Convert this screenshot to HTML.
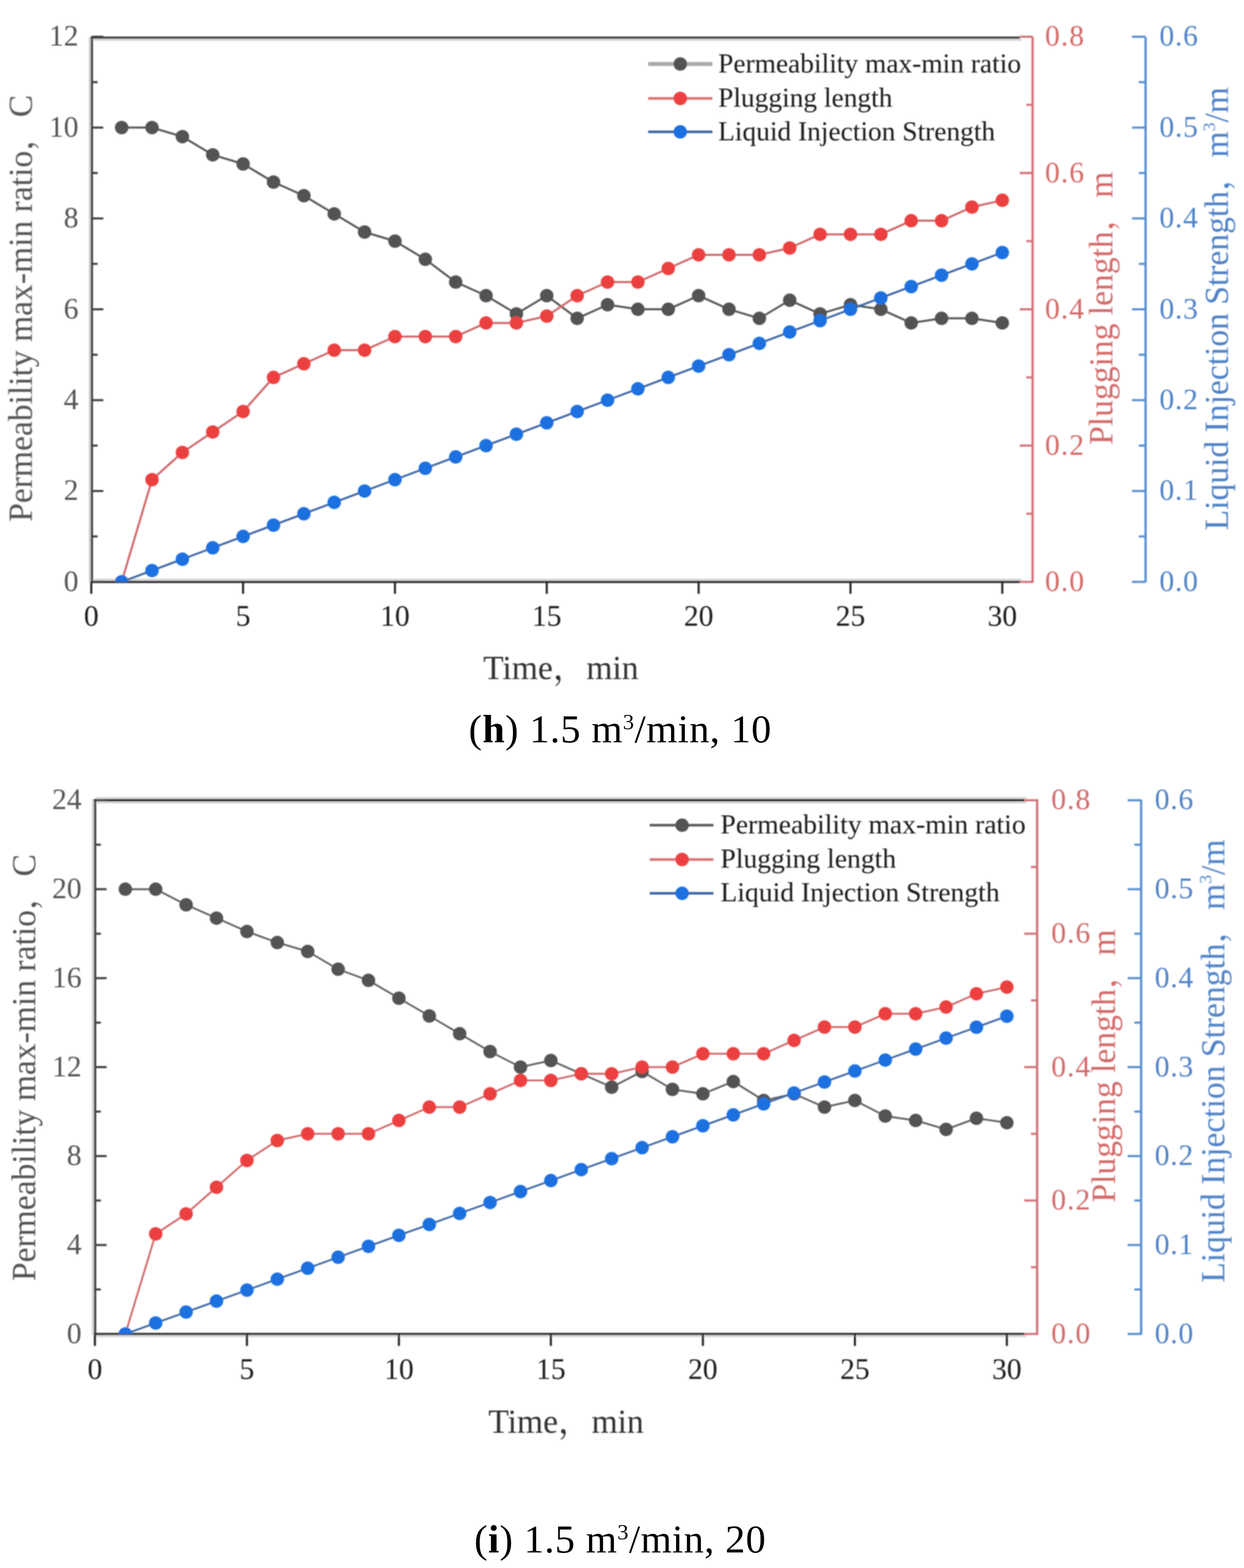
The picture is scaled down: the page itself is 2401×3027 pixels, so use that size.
<!DOCTYPE html>
<html><head><meta charset="utf-8"><title>Figure (h) and (i)</title>
<style>
html,body{margin:0;padding:0;background:#fff;}
body{width:2401px;height:3027px;overflow:hidden;}
svg{display:block;}
</style></head>
<body>
<svg width="2401" height="3027" viewBox="0 0 2401 3027">
<defs><filter id="soft" x="0" y="0" width="2401" height="3027" filterUnits="userSpaceOnUse"><feGaussianBlur stdDeviation="1.1"/></filter></defs>
<rect width="2401" height="3027" fill="#fff"/>
<g id="panel-h" filter="url(#soft)">
<rect x="171.4" y="70.7" width="4" height="1054.6" fill="#cfcfcf"/>
<line x1="177.4" y1="70.5" x2="177.4" y2="1125.5" stroke="#3f3f3f" stroke-width="4.2"/>
<rect x="179.5" y="74.8" width="1792.6" height="4" fill="#d4d4d4"/>
<rect x="179.5" y="1117.2" width="1792.6" height="4" fill="#d4d4d4"/>
<line x1="175.3" y1="72.7" x2="1968.0" y2="72.7" stroke="#404040" stroke-width="4.2"/>
<line x1="175.3" y1="1123.3" x2="1968.0" y2="1123.3" stroke="#2a2a2a" stroke-width="4.2"/>
<line x1="177.4" y1="1123.3" x2="199.4" y2="1123.3" stroke="#3f3f3f" stroke-width="4"/>
<line x1="177.4" y1="1035.6" x2="188.4" y2="1035.6" stroke="#3f3f3f" stroke-width="4"/>
<line x1="177.4" y1="947.9" x2="199.4" y2="947.9" stroke="#3f3f3f" stroke-width="4"/>
<line x1="177.4" y1="860.2" x2="188.4" y2="860.2" stroke="#3f3f3f" stroke-width="4"/>
<line x1="177.4" y1="772.5" x2="199.4" y2="772.5" stroke="#3f3f3f" stroke-width="4"/>
<line x1="177.4" y1="684.8" x2="188.4" y2="684.8" stroke="#3f3f3f" stroke-width="4"/>
<line x1="177.4" y1="597.1" x2="199.4" y2="597.1" stroke="#3f3f3f" stroke-width="4"/>
<line x1="177.4" y1="509.4" x2="188.4" y2="509.4" stroke="#3f3f3f" stroke-width="4"/>
<line x1="177.4" y1="421.7" x2="199.4" y2="421.7" stroke="#3f3f3f" stroke-width="4"/>
<line x1="177.4" y1="334.0" x2="188.4" y2="334.0" stroke="#3f3f3f" stroke-width="4"/>
<line x1="177.4" y1="246.3" x2="199.4" y2="246.3" stroke="#3f3f3f" stroke-width="4"/>
<line x1="177.4" y1="158.6" x2="188.4" y2="158.6" stroke="#3f3f3f" stroke-width="4"/>
<line x1="177.4" y1="70.9" x2="199.4" y2="70.9" stroke="#3f3f3f" stroke-width="4"/>
<line x1="176.2" y1="1123.3" x2="176.2" y2="1146.3" stroke="#222" stroke-width="4"/>
<line x1="469.2" y1="1123.3" x2="469.2" y2="1146.3" stroke="#222" stroke-width="4"/>
<line x1="762.3" y1="1123.3" x2="762.3" y2="1146.3" stroke="#222" stroke-width="4"/>
<line x1="1055.3" y1="1123.3" x2="1055.3" y2="1146.3" stroke="#222" stroke-width="4"/>
<line x1="1348.4" y1="1123.3" x2="1348.4" y2="1146.3" stroke="#222" stroke-width="4"/>
<line x1="1641.5" y1="1123.3" x2="1641.5" y2="1146.3" stroke="#222" stroke-width="4"/>
<line x1="1934.5" y1="1123.3" x2="1934.5" y2="1146.3" stroke="#222" stroke-width="4"/>
<line x1="1993.0" y1="70.7" x2="1993.0" y2="1125.3" stroke="#d0757a" stroke-width="4.5"/>
<line x1="1993.0" y1="1123.3" x2="1968.0" y2="1123.3" stroke="#d0757a" stroke-width="4.2"/>
<line x1="1993.0" y1="991.8" x2="1981.0" y2="991.8" stroke="#d0757a" stroke-width="4.2"/>
<line x1="1993.0" y1="860.2" x2="1968.0" y2="860.2" stroke="#d0757a" stroke-width="4.2"/>
<line x1="1993.0" y1="728.6" x2="1981.0" y2="728.6" stroke="#d0757a" stroke-width="4.2"/>
<line x1="1993.0" y1="597.1" x2="1968.0" y2="597.1" stroke="#d0757a" stroke-width="4.2"/>
<line x1="1993.0" y1="465.5" x2="1981.0" y2="465.5" stroke="#d0757a" stroke-width="4.2"/>
<line x1="1993.0" y1="334.0" x2="1968.0" y2="334.0" stroke="#d0757a" stroke-width="4.2"/>
<line x1="1993.0" y1="202.4" x2="1981.0" y2="202.4" stroke="#d0757a" stroke-width="4.2"/>
<line x1="1993.0" y1="70.9" x2="1968.0" y2="70.9" stroke="#d0757a" stroke-width="4.2"/>
<line x1="2211.0" y1="71.7" x2="2211.0" y2="1124.3" stroke="#5a8fd0" stroke-width="4.5"/>
<line x1="2211.0" y1="1123.3" x2="2185.0" y2="1123.3" stroke="#5a8fd0" stroke-width="4.2"/>
<line x1="2211.0" y1="1035.6" x2="2198.0" y2="1035.6" stroke="#5a8fd0" stroke-width="4.2"/>
<line x1="2211.0" y1="947.9" x2="2185.0" y2="947.9" stroke="#5a8fd0" stroke-width="4.2"/>
<line x1="2211.0" y1="860.2" x2="2198.0" y2="860.2" stroke="#5a8fd0" stroke-width="4.2"/>
<line x1="2211.0" y1="772.5" x2="2185.0" y2="772.5" stroke="#5a8fd0" stroke-width="4.2"/>
<line x1="2211.0" y1="684.8" x2="2198.0" y2="684.8" stroke="#5a8fd0" stroke-width="4.2"/>
<line x1="2211.0" y1="597.1" x2="2185.0" y2="597.1" stroke="#5a8fd0" stroke-width="4.2"/>
<line x1="2211.0" y1="509.4" x2="2198.0" y2="509.4" stroke="#5a8fd0" stroke-width="4.2"/>
<line x1="2211.0" y1="421.7" x2="2185.0" y2="421.7" stroke="#5a8fd0" stroke-width="4.2"/>
<line x1="2211.0" y1="334.0" x2="2198.0" y2="334.0" stroke="#5a8fd0" stroke-width="4.2"/>
<line x1="2211.0" y1="246.3" x2="2185.0" y2="246.3" stroke="#5a8fd0" stroke-width="4.2"/>
<line x1="2211.0" y1="158.6" x2="2198.0" y2="158.6" stroke="#5a8fd0" stroke-width="4.2"/>
<line x1="2211.0" y1="70.9" x2="2185.0" y2="70.9" stroke="#5a8fd0" stroke-width="4.2"/>
<g font-family="'Liberation Serif', 'Noto Serif CJK SC', serif" font-size="57">
<text x="151.5" y="1140.8" text-anchor="end" fill="#555555">0</text>
<text x="151.5" y="965.4" text-anchor="end" fill="#555555">2</text>
<text x="151.5" y="790.0" text-anchor="end" fill="#555555">4</text>
<text x="151.5" y="614.6" text-anchor="end" fill="#555555">6</text>
<text x="151.5" y="439.2" text-anchor="end" fill="#555555">8</text>
<text x="151.5" y="263.8" text-anchor="end" fill="#555555">10</text>
<text x="151.5" y="88.4" text-anchor="end" fill="#555555">12</text>
<text x="176.2" y="1208.0" text-anchor="middle" fill="#1a1a1a">0</text>
<text x="469.2" y="1208.0" text-anchor="middle" fill="#1a1a1a">5</text>
<text x="762.3" y="1208.0" text-anchor="middle" fill="#1a1a1a">10</text>
<text x="1055.3" y="1208.0" text-anchor="middle" fill="#1a1a1a">15</text>
<text x="1348.4" y="1208.0" text-anchor="middle" fill="#1a1a1a">20</text>
<text x="1641.5" y="1208.0" text-anchor="middle" fill="#1a1a1a">25</text>
<text x="1934.5" y="1208.0" text-anchor="middle" fill="#1a1a1a">30</text>
<text x="2017.0" y="1140.8" letter-spacing="2" fill="#d46a6a">0.0</text>
<text x="2017.0" y="877.7" letter-spacing="2" fill="#d46a6a">0.2</text>
<text x="2017.0" y="614.6" letter-spacing="2" fill="#d46a6a">0.4</text>
<text x="2017.0" y="351.5" letter-spacing="2" fill="#d46a6a">0.6</text>
<text x="2017.0" y="88.4" letter-spacing="2" fill="#d46a6a">0.8</text>
<text x="2237.7" y="1140.8" letter-spacing="1.5" fill="#4f82c8">0.0</text>
<text x="2237.7" y="965.4" letter-spacing="1.5" fill="#4f82c8">0.1</text>
<text x="2237.7" y="790.0" letter-spacing="1.5" fill="#4f82c8">0.2</text>
<text x="2237.7" y="614.6" letter-spacing="1.5" fill="#4f82c8">0.3</text>
<text x="2237.7" y="439.2" letter-spacing="1.5" fill="#4f82c8">0.4</text>
<text x="2237.7" y="263.8" letter-spacing="1.5" fill="#4f82c8">0.5</text>
<text x="2237.7" y="88.4" letter-spacing="1.5" fill="#4f82c8">0.6</text>
</g>
<g font-family="'Liberation Serif', 'Noto Serif CJK SC', serif" font-size="64.8" text-anchor="middle">
<text transform="translate(61.5,595.3) rotate(-90)" fill="#555">Permeability max-min ratio，C</text>
<text transform="translate(2147.0,595.0) rotate(-90)" fill="#d46a6a">Plugging length，m</text>
<text transform="translate(2370.0,596.0) rotate(-90)" fill="#4f82c8">Liquid Injection Strength，m<tspan font-size="34" dy="-25">3</tspan><tspan dy="25">/m</tspan></text>
<text x="1082.5" y="1311.0" fill="#333">Time，min</text>
</g>
<clipPath id="clip-h"><rect x="177.4" y="72.7" width="1815.6" height="1050.6"/></clipPath>
<g clip-path="url(#clip-h)">
<polyline points="234.8,246.3 293.4,246.3 352.0,263.8 410.6,298.9 469.2,316.5 527.9,351.5 586.5,377.8 645.1,412.9 703.7,448.0 762.3,465.5 820.9,500.6 879.5,544.5 938.1,570.8 996.7,605.9 1055.3,570.8 1114.0,614.6 1172.6,588.3 1231.2,597.1 1289.8,597.1 1348.4,570.8 1407.0,597.1 1465.6,614.6 1524.2,579.6 1582.8,605.9 1641.5,588.3 1700.1,597.1 1758.7,623.4 1817.3,614.6 1875.9,614.6 1934.5,623.4" fill="none" stroke="#5a5a5a" stroke-width="4" stroke-linejoin="round"/>
<circle cx="234.8" cy="246.3" r="13.0" fill="#525252"/><circle cx="293.4" cy="246.3" r="13.0" fill="#525252"/><circle cx="352.0" cy="263.8" r="13.0" fill="#525252"/><circle cx="410.6" cy="298.9" r="13.0" fill="#525252"/><circle cx="469.2" cy="316.5" r="13.0" fill="#525252"/><circle cx="527.9" cy="351.5" r="13.0" fill="#525252"/><circle cx="586.5" cy="377.8" r="13.0" fill="#525252"/><circle cx="645.1" cy="412.9" r="13.0" fill="#525252"/><circle cx="703.7" cy="448.0" r="13.0" fill="#525252"/><circle cx="762.3" cy="465.5" r="13.0" fill="#525252"/><circle cx="820.9" cy="500.6" r="13.0" fill="#525252"/><circle cx="879.5" cy="544.5" r="13.0" fill="#525252"/><circle cx="938.1" cy="570.8" r="13.0" fill="#525252"/><circle cx="996.7" cy="605.9" r="13.0" fill="#525252"/><circle cx="1055.3" cy="570.8" r="13.0" fill="#525252"/><circle cx="1114.0" cy="614.6" r="13.0" fill="#525252"/><circle cx="1172.6" cy="588.3" r="13.0" fill="#525252"/><circle cx="1231.2" cy="597.1" r="13.0" fill="#525252"/><circle cx="1289.8" cy="597.1" r="13.0" fill="#525252"/><circle cx="1348.4" cy="570.8" r="13.0" fill="#525252"/><circle cx="1407.0" cy="597.1" r="13.0" fill="#525252"/><circle cx="1465.6" cy="614.6" r="13.0" fill="#525252"/><circle cx="1524.2" cy="579.6" r="13.0" fill="#525252"/><circle cx="1582.8" cy="605.9" r="13.0" fill="#525252"/><circle cx="1641.5" cy="588.3" r="13.0" fill="#525252"/><circle cx="1700.1" cy="597.1" r="13.0" fill="#525252"/><circle cx="1758.7" cy="623.4" r="13.0" fill="#525252"/><circle cx="1817.3" cy="614.6" r="13.0" fill="#525252"/><circle cx="1875.9" cy="614.6" r="13.0" fill="#525252"/><circle cx="1934.5" cy="623.4" r="13.0" fill="#525252"/>
<polyline points="234.8,1123.3 293.4,926.0 352.0,873.4 410.6,833.9 469.2,794.4 527.9,728.6 586.5,702.3 645.1,676.0 703.7,676.0 762.3,649.7 820.9,649.7 879.5,649.7 938.1,623.4 996.7,623.4 1055.3,610.3 1114.0,570.8 1172.6,544.5 1231.2,544.5 1289.8,518.2 1348.4,491.9 1407.0,491.9 1465.6,491.9 1524.2,478.7 1582.8,452.4 1641.5,452.4 1700.1,452.4 1758.7,426.1 1817.3,426.1 1875.9,399.8 1934.5,386.6" fill="none" stroke="#d0676a" stroke-width="4" stroke-linejoin="round"/>
<circle cx="234.8" cy="1123.3" r="13.0" fill="#ec4040"/><circle cx="293.4" cy="926.0" r="13.0" fill="#ec4040"/><circle cx="352.0" cy="873.4" r="13.0" fill="#ec4040"/><circle cx="410.6" cy="833.9" r="13.0" fill="#ec4040"/><circle cx="469.2" cy="794.4" r="13.0" fill="#ec4040"/><circle cx="527.9" cy="728.6" r="13.0" fill="#ec4040"/><circle cx="586.5" cy="702.3" r="13.0" fill="#ec4040"/><circle cx="645.1" cy="676.0" r="13.0" fill="#ec4040"/><circle cx="703.7" cy="676.0" r="13.0" fill="#ec4040"/><circle cx="762.3" cy="649.7" r="13.0" fill="#ec4040"/><circle cx="820.9" cy="649.7" r="13.0" fill="#ec4040"/><circle cx="879.5" cy="649.7" r="13.0" fill="#ec4040"/><circle cx="938.1" cy="623.4" r="13.0" fill="#ec4040"/><circle cx="996.7" cy="623.4" r="13.0" fill="#ec4040"/><circle cx="1055.3" cy="610.3" r="13.0" fill="#ec4040"/><circle cx="1114.0" cy="570.8" r="13.0" fill="#ec4040"/><circle cx="1172.6" cy="544.5" r="13.0" fill="#ec4040"/><circle cx="1231.2" cy="544.5" r="13.0" fill="#ec4040"/><circle cx="1289.8" cy="518.2" r="13.0" fill="#ec4040"/><circle cx="1348.4" cy="491.9" r="13.0" fill="#ec4040"/><circle cx="1407.0" cy="491.9" r="13.0" fill="#ec4040"/><circle cx="1465.6" cy="491.9" r="13.0" fill="#ec4040"/><circle cx="1524.2" cy="478.7" r="13.0" fill="#ec4040"/><circle cx="1582.8" cy="452.4" r="13.0" fill="#ec4040"/><circle cx="1641.5" cy="452.4" r="13.0" fill="#ec4040"/><circle cx="1700.1" cy="452.4" r="13.0" fill="#ec4040"/><circle cx="1758.7" cy="426.1" r="13.0" fill="#ec4040"/><circle cx="1817.3" cy="426.1" r="13.0" fill="#ec4040"/><circle cx="1875.9" cy="399.8" r="13.0" fill="#ec4040"/><circle cx="1934.5" cy="386.6" r="13.0" fill="#ec4040"/>
<polyline points="234.8,1123.3 293.4,1101.4 352.0,1079.5 410.6,1057.5 469.2,1035.6 527.9,1013.7 586.5,991.8 645.1,969.8 703.7,947.9 762.3,926.0 820.9,904.0 879.5,882.1 938.1,860.2 996.7,838.3 1055.3,816.3 1114.0,794.4 1172.6,772.5 1231.2,750.6 1289.8,728.6 1348.4,706.7 1407.0,684.8 1465.6,662.9 1524.2,640.9 1582.8,619.0 1641.5,597.1 1700.1,575.2 1758.7,553.2 1817.3,531.3 1875.9,509.4 1934.5,487.5" fill="none" stroke="#4068a6" stroke-width="4" stroke-linejoin="round"/>
<circle cx="234.8" cy="1123.3" r="13.0" fill="#1c70e0"/><circle cx="293.4" cy="1101.4" r="13.0" fill="#1c70e0"/><circle cx="352.0" cy="1079.5" r="13.0" fill="#1c70e0"/><circle cx="410.6" cy="1057.5" r="13.0" fill="#1c70e0"/><circle cx="469.2" cy="1035.6" r="13.0" fill="#1c70e0"/><circle cx="527.9" cy="1013.7" r="13.0" fill="#1c70e0"/><circle cx="586.5" cy="991.8" r="13.0" fill="#1c70e0"/><circle cx="645.1" cy="969.8" r="13.0" fill="#1c70e0"/><circle cx="703.7" cy="947.9" r="13.0" fill="#1c70e0"/><circle cx="762.3" cy="926.0" r="13.0" fill="#1c70e0"/><circle cx="820.9" cy="904.0" r="13.0" fill="#1c70e0"/><circle cx="879.5" cy="882.1" r="13.0" fill="#1c70e0"/><circle cx="938.1" cy="860.2" r="13.0" fill="#1c70e0"/><circle cx="996.7" cy="838.3" r="13.0" fill="#1c70e0"/><circle cx="1055.3" cy="816.3" r="13.0" fill="#1c70e0"/><circle cx="1114.0" cy="794.4" r="13.0" fill="#1c70e0"/><circle cx="1172.6" cy="772.5" r="13.0" fill="#1c70e0"/><circle cx="1231.2" cy="750.6" r="13.0" fill="#1c70e0"/><circle cx="1289.8" cy="728.6" r="13.0" fill="#1c70e0"/><circle cx="1348.4" cy="706.7" r="13.0" fill="#1c70e0"/><circle cx="1407.0" cy="684.8" r="13.0" fill="#1c70e0"/><circle cx="1465.6" cy="662.9" r="13.0" fill="#1c70e0"/><circle cx="1524.2" cy="640.9" r="13.0" fill="#1c70e0"/><circle cx="1582.8" cy="619.0" r="13.0" fill="#1c70e0"/><circle cx="1641.5" cy="597.1" r="13.0" fill="#1c70e0"/><circle cx="1700.1" cy="575.2" r="13.0" fill="#1c70e0"/><circle cx="1758.7" cy="553.2" r="13.0" fill="#1c70e0"/><circle cx="1817.3" cy="531.3" r="13.0" fill="#1c70e0"/><circle cx="1875.9" cy="509.4" r="13.0" fill="#1c70e0"/><circle cx="1934.5" cy="487.5" r="13.0" fill="#1c70e0"/>
</g>
<line x1="1251" y1="123.5" x2="1375" y2="123.5" stroke="#a9a9a9" stroke-width="7.5"/>
<circle cx="1313.0" cy="123.5" r="13.0" fill="#525252"/>
<text x="1386.0" y="139.5" font-family="'Liberation Serif', 'Noto Serif CJK SC', serif" font-size="52.9" fill="#1a1a1a">Permeability max-min ratio</text>
<line x1="1251" y1="190.0" x2="1375" y2="190.0" stroke="#dc6f72" stroke-width="5"/>
<circle cx="1313.0" cy="190.0" r="13.0" fill="#ec4040"/>
<text x="1386.0" y="206.0" font-family="'Liberation Serif', 'Noto Serif CJK SC', serif" font-size="52.9" fill="#1a1a1a">Plugging length</text>
<line x1="1251" y1="254.5" x2="1375" y2="254.5" stroke="#4068a6" stroke-width="5"/>
<circle cx="1313.0" cy="254.5" r="13.0" fill="#1c70e0"/>
<text x="1386.0" y="270.5" font-family="'Liberation Serif', 'Noto Serif CJK SC', serif" font-size="52.9" fill="#1a1a1a">Liquid Injection Strength</text>
</g>
<text x="1197.0" y="1433.0" text-anchor="middle" font-family="'Liberation Serif', 'Noto Serif CJK SC', serif" font-size="77" letter-spacing="1" fill="#000">(<tspan font-weight="bold">h</tspan>) 1.5 m<tspan font-size="43" dy="-25">3</tspan><tspan dy="25">/min, 10</tspan></text>
<g id="panel-i" filter="url(#soft)">
<rect x="177.7" y="1542.8" width="4" height="1034.4" fill="#cfcfcf"/>
<line x1="183.7" y1="1542.6" x2="183.7" y2="2577.4" stroke="#3f3f3f" stroke-width="4.2"/>
<rect x="185.8" y="1538.7" width="1795.1" height="4" fill="#d4d4d4"/>
<rect x="185.8" y="1546.9" width="1795.1" height="4" fill="#d4d4d4"/>
<rect x="185.8" y="2577.3" width="1795.1" height="4" fill="#d4d4d4"/>
<line x1="181.6" y1="1544.8" x2="1976.8" y2="1544.8" stroke="#080808" stroke-width="4.2"/>
<line x1="181.6" y1="2575.2" x2="1976.8" y2="2575.2" stroke="#383838" stroke-width="4.2"/>
<line x1="183.7" y1="2575.2" x2="205.7" y2="2575.2" stroke="#3f3f3f" stroke-width="4"/>
<line x1="183.7" y1="2489.3" x2="194.7" y2="2489.3" stroke="#3f3f3f" stroke-width="4"/>
<line x1="183.7" y1="2403.5" x2="205.7" y2="2403.5" stroke="#3f3f3f" stroke-width="4"/>
<line x1="183.7" y1="2317.6" x2="194.7" y2="2317.6" stroke="#3f3f3f" stroke-width="4"/>
<line x1="183.7" y1="2231.8" x2="205.7" y2="2231.8" stroke="#3f3f3f" stroke-width="4"/>
<line x1="183.7" y1="2145.9" x2="194.7" y2="2145.9" stroke="#3f3f3f" stroke-width="4"/>
<line x1="183.7" y1="2060.0" x2="205.7" y2="2060.0" stroke="#3f3f3f" stroke-width="4"/>
<line x1="183.7" y1="1974.2" x2="194.7" y2="1974.2" stroke="#3f3f3f" stroke-width="4"/>
<line x1="183.7" y1="1888.3" x2="205.7" y2="1888.3" stroke="#3f3f3f" stroke-width="4"/>
<line x1="183.7" y1="1802.5" x2="194.7" y2="1802.5" stroke="#3f3f3f" stroke-width="4"/>
<line x1="183.7" y1="1716.6" x2="205.7" y2="1716.6" stroke="#3f3f3f" stroke-width="4"/>
<line x1="183.7" y1="1630.7" x2="194.7" y2="1630.7" stroke="#3f3f3f" stroke-width="4"/>
<line x1="183.7" y1="1544.9" x2="205.7" y2="1544.9" stroke="#3f3f3f" stroke-width="4"/>
<line x1="183.2" y1="2575.2" x2="183.2" y2="2598.2" stroke="#222" stroke-width="4"/>
<line x1="476.6" y1="2575.2" x2="476.6" y2="2598.2" stroke="#222" stroke-width="4"/>
<line x1="769.9" y1="2575.2" x2="769.9" y2="2598.2" stroke="#222" stroke-width="4"/>
<line x1="1063.2" y1="2575.2" x2="1063.2" y2="2598.2" stroke="#222" stroke-width="4"/>
<line x1="1356.6" y1="2575.2" x2="1356.6" y2="2598.2" stroke="#222" stroke-width="4"/>
<line x1="1650.0" y1="2575.2" x2="1650.0" y2="2598.2" stroke="#222" stroke-width="4"/>
<line x1="1943.3" y1="2575.2" x2="1943.3" y2="2598.2" stroke="#222" stroke-width="4"/>
<line x1="2001.8" y1="1542.8" x2="2001.8" y2="2577.2" stroke="#d0757a" stroke-width="4.5"/>
<line x1="2001.8" y1="2575.2" x2="1976.8" y2="2575.2" stroke="#d0757a" stroke-width="4.2"/>
<line x1="2001.8" y1="2446.4" x2="1989.8" y2="2446.4" stroke="#d0757a" stroke-width="4.2"/>
<line x1="2001.8" y1="2317.6" x2="1976.8" y2="2317.6" stroke="#d0757a" stroke-width="4.2"/>
<line x1="2001.8" y1="2188.8" x2="1989.8" y2="2188.8" stroke="#d0757a" stroke-width="4.2"/>
<line x1="2001.8" y1="2060.0" x2="1976.8" y2="2060.0" stroke="#d0757a" stroke-width="4.2"/>
<line x1="2001.8" y1="1931.2" x2="1989.8" y2="1931.2" stroke="#d0757a" stroke-width="4.2"/>
<line x1="2001.8" y1="1802.5" x2="1976.8" y2="1802.5" stroke="#d0757a" stroke-width="4.2"/>
<line x1="2001.8" y1="1673.7" x2="1989.8" y2="1673.7" stroke="#d0757a" stroke-width="4.2"/>
<line x1="2001.8" y1="1544.9" x2="1976.8" y2="1544.9" stroke="#d0757a" stroke-width="4.2"/>
<line x1="2202.5" y1="1543.8" x2="2202.5" y2="2576.2" stroke="#5a8fd0" stroke-width="4.5"/>
<line x1="2202.5" y1="2575.2" x2="2176.5" y2="2575.2" stroke="#5a8fd0" stroke-width="4.2"/>
<line x1="2202.5" y1="2489.3" x2="2189.5" y2="2489.3" stroke="#5a8fd0" stroke-width="4.2"/>
<line x1="2202.5" y1="2403.5" x2="2176.5" y2="2403.5" stroke="#5a8fd0" stroke-width="4.2"/>
<line x1="2202.5" y1="2317.6" x2="2189.5" y2="2317.6" stroke="#5a8fd0" stroke-width="4.2"/>
<line x1="2202.5" y1="2231.8" x2="2176.5" y2="2231.8" stroke="#5a8fd0" stroke-width="4.2"/>
<line x1="2202.5" y1="2145.9" x2="2189.5" y2="2145.9" stroke="#5a8fd0" stroke-width="4.2"/>
<line x1="2202.5" y1="2060.0" x2="2176.5" y2="2060.0" stroke="#5a8fd0" stroke-width="4.2"/>
<line x1="2202.5" y1="1974.2" x2="2189.5" y2="1974.2" stroke="#5a8fd0" stroke-width="4.2"/>
<line x1="2202.5" y1="1888.3" x2="2176.5" y2="1888.3" stroke="#5a8fd0" stroke-width="4.2"/>
<line x1="2202.5" y1="1802.5" x2="2189.5" y2="1802.5" stroke="#5a8fd0" stroke-width="4.2"/>
<line x1="2202.5" y1="1716.6" x2="2176.5" y2="1716.6" stroke="#5a8fd0" stroke-width="4.2"/>
<line x1="2202.5" y1="1630.7" x2="2189.5" y2="1630.7" stroke="#5a8fd0" stroke-width="4.2"/>
<line x1="2202.5" y1="1544.9" x2="2176.5" y2="1544.9" stroke="#5a8fd0" stroke-width="4.2"/>
<g font-family="'Liberation Serif', 'Noto Serif CJK SC', serif" font-size="57">
<text x="157.5" y="2592.7" text-anchor="end" fill="#555555">0</text>
<text x="157.5" y="2421.0" text-anchor="end" fill="#555555">4</text>
<text x="157.5" y="2249.3" text-anchor="end" fill="#555555">8</text>
<text x="157.5" y="2077.5" text-anchor="end" fill="#555555">12</text>
<text x="157.5" y="1905.8" text-anchor="end" fill="#555555">16</text>
<text x="157.5" y="1734.1" text-anchor="end" fill="#555555">20</text>
<text x="157.5" y="1562.4" text-anchor="end" fill="#555555">24</text>
<text x="183.2" y="2662.0" text-anchor="middle" fill="#1a1a1a">0</text>
<text x="476.6" y="2662.0" text-anchor="middle" fill="#1a1a1a">5</text>
<text x="769.9" y="2662.0" text-anchor="middle" fill="#1a1a1a">10</text>
<text x="1063.2" y="2662.0" text-anchor="middle" fill="#1a1a1a">15</text>
<text x="1356.6" y="2662.0" text-anchor="middle" fill="#1a1a1a">20</text>
<text x="1650.0" y="2662.0" text-anchor="middle" fill="#1a1a1a">25</text>
<text x="1943.3" y="2662.0" text-anchor="middle" fill="#1a1a1a">30</text>
<text x="2029.0" y="2592.7" letter-spacing="2" fill="#d46a6a">0.0</text>
<text x="2029.0" y="2335.1" letter-spacing="2" fill="#d46a6a">0.2</text>
<text x="2029.0" y="2077.5" letter-spacing="2" fill="#d46a6a">0.4</text>
<text x="2029.0" y="1820.0" letter-spacing="2" fill="#d46a6a">0.6</text>
<text x="2029.0" y="1562.4" letter-spacing="2" fill="#d46a6a">0.8</text>
<text x="2228.7" y="2592.7" letter-spacing="1.5" fill="#4f82c8">0.0</text>
<text x="2228.7" y="2421.0" letter-spacing="1.5" fill="#4f82c8">0.1</text>
<text x="2228.7" y="2249.3" letter-spacing="1.5" fill="#4f82c8">0.2</text>
<text x="2228.7" y="2077.5" letter-spacing="1.5" fill="#4f82c8">0.3</text>
<text x="2228.7" y="1905.8" letter-spacing="1.5" fill="#4f82c8">0.4</text>
<text x="2228.7" y="1734.1" letter-spacing="1.5" fill="#4f82c8">0.5</text>
<text x="2228.7" y="1562.4" letter-spacing="1.5" fill="#4f82c8">0.6</text>
</g>
<g font-family="'Liberation Serif', 'Noto Serif CJK SC', serif" font-size="64.8" text-anchor="middle">
<text transform="translate(68.0,2061.0) rotate(-90)" fill="#555">Permeability max-min ratio，C</text>
<text transform="translate(2152.0,2057.8) rotate(-90)" fill="#d46a6a">Plugging length，m</text>
<text transform="translate(2363.0,2048.5) rotate(-90)" fill="#4f82c8">Liquid Injection Strength，m<tspan font-size="34" dy="-25">3</tspan><tspan dy="25">/m</tspan></text>
<text x="1092.5" y="2766.0" fill="#333">Time，min</text>
</g>
<clipPath id="clip-i"><rect x="183.7" y="1544.8" width="1818.1" height="1030.4"/></clipPath>
<g clip-path="url(#clip-i)">
<polyline points="241.9,1716.6 300.5,1716.6 359.2,1746.7 417.9,1772.4 476.6,1798.2 535.2,1819.6 593.9,1836.8 652.6,1871.1 711.2,1892.6 769.9,1927.0 828.6,1961.3 887.2,1995.6 945.9,2030.0 1004.6,2060.0 1063.2,2047.2 1121.9,2072.9 1180.6,2098.7 1239.3,2068.6 1297.9,2103.0 1356.6,2111.6 1415.3,2087.9 1473.9,2124.4 1532.6,2111.6 1591.3,2137.3 1650.0,2124.4 1708.6,2154.5 1767.3,2163.1 1826.0,2180.2 1884.6,2158.8 1943.3,2167.4" fill="none" stroke="#646464" stroke-width="3.6" stroke-linejoin="round"/>
<circle cx="241.9" cy="1716.6" r="13.0" fill="#525252"/><circle cx="300.5" cy="1716.6" r="13.0" fill="#525252"/><circle cx="359.2" cy="1746.7" r="13.0" fill="#525252"/><circle cx="417.9" cy="1772.4" r="13.0" fill="#525252"/><circle cx="476.6" cy="1798.2" r="13.0" fill="#525252"/><circle cx="535.2" cy="1819.6" r="13.0" fill="#525252"/><circle cx="593.9" cy="1836.8" r="13.0" fill="#525252"/><circle cx="652.6" cy="1871.1" r="13.0" fill="#525252"/><circle cx="711.2" cy="1892.6" r="13.0" fill="#525252"/><circle cx="769.9" cy="1927.0" r="13.0" fill="#525252"/><circle cx="828.6" cy="1961.3" r="13.0" fill="#525252"/><circle cx="887.2" cy="1995.6" r="13.0" fill="#525252"/><circle cx="945.9" cy="2030.0" r="13.0" fill="#525252"/><circle cx="1004.6" cy="2060.0" r="13.0" fill="#525252"/><circle cx="1063.2" cy="2047.2" r="13.0" fill="#525252"/><circle cx="1121.9" cy="2072.9" r="13.0" fill="#525252"/><circle cx="1180.6" cy="2098.7" r="13.0" fill="#525252"/><circle cx="1239.3" cy="2068.6" r="13.0" fill="#525252"/><circle cx="1297.9" cy="2103.0" r="13.0" fill="#525252"/><circle cx="1356.6" cy="2111.6" r="13.0" fill="#525252"/><circle cx="1415.3" cy="2087.9" r="13.0" fill="#525252"/><circle cx="1473.9" cy="2124.4" r="13.0" fill="#525252"/><circle cx="1532.6" cy="2111.6" r="13.0" fill="#525252"/><circle cx="1591.3" cy="2137.3" r="13.0" fill="#525252"/><circle cx="1650.0" cy="2124.4" r="13.0" fill="#525252"/><circle cx="1708.6" cy="2154.5" r="13.0" fill="#525252"/><circle cx="1767.3" cy="2163.1" r="13.0" fill="#525252"/><circle cx="1826.0" cy="2180.2" r="13.0" fill="#525252"/><circle cx="1884.6" cy="2158.8" r="13.0" fill="#525252"/><circle cx="1943.3" cy="2167.4" r="13.0" fill="#525252"/>
<polyline points="241.9,2575.2 300.5,2382.0 359.2,2343.4 417.9,2291.9 476.6,2240.3 535.2,2201.7 593.9,2188.8 652.6,2188.8 711.2,2188.8 769.9,2163.1 828.6,2137.3 887.2,2137.3 945.9,2111.6 1004.6,2085.8 1063.2,2085.8 1121.9,2072.9 1180.6,2072.9 1239.3,2060.0 1297.9,2060.0 1356.6,2034.3 1415.3,2034.3 1473.9,2034.3 1532.6,2008.5 1591.3,1982.8 1650.0,1982.8 1708.6,1957.0 1767.3,1957.0 1826.0,1944.1 1884.6,1918.4 1943.3,1905.5" fill="none" stroke="#d0676a" stroke-width="3.6" stroke-linejoin="round"/>
<circle cx="241.9" cy="2575.2" r="13.0" fill="#ec4040"/><circle cx="300.5" cy="2382.0" r="13.0" fill="#ec4040"/><circle cx="359.2" cy="2343.4" r="13.0" fill="#ec4040"/><circle cx="417.9" cy="2291.9" r="13.0" fill="#ec4040"/><circle cx="476.6" cy="2240.3" r="13.0" fill="#ec4040"/><circle cx="535.2" cy="2201.7" r="13.0" fill="#ec4040"/><circle cx="593.9" cy="2188.8" r="13.0" fill="#ec4040"/><circle cx="652.6" cy="2188.8" r="13.0" fill="#ec4040"/><circle cx="711.2" cy="2188.8" r="13.0" fill="#ec4040"/><circle cx="769.9" cy="2163.1" r="13.0" fill="#ec4040"/><circle cx="828.6" cy="2137.3" r="13.0" fill="#ec4040"/><circle cx="887.2" cy="2137.3" r="13.0" fill="#ec4040"/><circle cx="945.9" cy="2111.6" r="13.0" fill="#ec4040"/><circle cx="1004.6" cy="2085.8" r="13.0" fill="#ec4040"/><circle cx="1063.2" cy="2085.8" r="13.0" fill="#ec4040"/><circle cx="1121.9" cy="2072.9" r="13.0" fill="#ec4040"/><circle cx="1180.6" cy="2072.9" r="13.0" fill="#ec4040"/><circle cx="1239.3" cy="2060.0" r="13.0" fill="#ec4040"/><circle cx="1297.9" cy="2060.0" r="13.0" fill="#ec4040"/><circle cx="1356.6" cy="2034.3" r="13.0" fill="#ec4040"/><circle cx="1415.3" cy="2034.3" r="13.0" fill="#ec4040"/><circle cx="1473.9" cy="2034.3" r="13.0" fill="#ec4040"/><circle cx="1532.6" cy="2008.5" r="13.0" fill="#ec4040"/><circle cx="1591.3" cy="1982.8" r="13.0" fill="#ec4040"/><circle cx="1650.0" cy="1982.8" r="13.0" fill="#ec4040"/><circle cx="1708.6" cy="1957.0" r="13.0" fill="#ec4040"/><circle cx="1767.3" cy="1957.0" r="13.0" fill="#ec4040"/><circle cx="1826.0" cy="1944.1" r="13.0" fill="#ec4040"/><circle cx="1884.6" cy="1918.4" r="13.0" fill="#ec4040"/><circle cx="1943.3" cy="1905.5" r="13.0" fill="#ec4040"/>
<polyline points="241.9,2575.2 300.5,2554.0 359.2,2532.9 417.9,2511.8 476.6,2490.6 535.2,2469.4 593.9,2448.3 652.6,2427.1 711.2,2406.0 769.9,2384.8 828.6,2363.7 887.2,2342.5 945.9,2321.4 1004.6,2300.2 1063.2,2279.1 1121.9,2257.9 1180.6,2236.8 1239.3,2215.6 1297.9,2194.5 1356.6,2173.3 1415.3,2152.2 1473.9,2131.0 1532.6,2109.9 1591.3,2088.8 1650.0,2067.6 1708.6,2046.4 1767.3,2025.3 1826.0,2004.1 1884.6,1983.0 1943.3,1961.8" fill="none" stroke="#4068a6" stroke-width="3.6" stroke-linejoin="round"/>
<circle cx="241.9" cy="2575.2" r="13.0" fill="#1c70e0"/><circle cx="300.5" cy="2554.0" r="13.0" fill="#1c70e0"/><circle cx="359.2" cy="2532.9" r="13.0" fill="#1c70e0"/><circle cx="417.9" cy="2511.8" r="13.0" fill="#1c70e0"/><circle cx="476.6" cy="2490.6" r="13.0" fill="#1c70e0"/><circle cx="535.2" cy="2469.4" r="13.0" fill="#1c70e0"/><circle cx="593.9" cy="2448.3" r="13.0" fill="#1c70e0"/><circle cx="652.6" cy="2427.1" r="13.0" fill="#1c70e0"/><circle cx="711.2" cy="2406.0" r="13.0" fill="#1c70e0"/><circle cx="769.9" cy="2384.8" r="13.0" fill="#1c70e0"/><circle cx="828.6" cy="2363.7" r="13.0" fill="#1c70e0"/><circle cx="887.2" cy="2342.5" r="13.0" fill="#1c70e0"/><circle cx="945.9" cy="2321.4" r="13.0" fill="#1c70e0"/><circle cx="1004.6" cy="2300.2" r="13.0" fill="#1c70e0"/><circle cx="1063.2" cy="2279.1" r="13.0" fill="#1c70e0"/><circle cx="1121.9" cy="2257.9" r="13.0" fill="#1c70e0"/><circle cx="1180.6" cy="2236.8" r="13.0" fill="#1c70e0"/><circle cx="1239.3" cy="2215.6" r="13.0" fill="#1c70e0"/><circle cx="1297.9" cy="2194.5" r="13.0" fill="#1c70e0"/><circle cx="1356.6" cy="2173.3" r="13.0" fill="#1c70e0"/><circle cx="1415.3" cy="2152.2" r="13.0" fill="#1c70e0"/><circle cx="1473.9" cy="2131.0" r="13.0" fill="#1c70e0"/><circle cx="1532.6" cy="2109.9" r="13.0" fill="#1c70e0"/><circle cx="1591.3" cy="2088.8" r="13.0" fill="#1c70e0"/><circle cx="1650.0" cy="2067.6" r="13.0" fill="#1c70e0"/><circle cx="1708.6" cy="2046.4" r="13.0" fill="#1c70e0"/><circle cx="1767.3" cy="2025.3" r="13.0" fill="#1c70e0"/><circle cx="1826.0" cy="2004.1" r="13.0" fill="#1c70e0"/><circle cx="1884.6" cy="1983.0" r="13.0" fill="#1c70e0"/><circle cx="1943.3" cy="1961.8" r="13.0" fill="#1c70e0"/>
</g>
<line x1="1254" y1="1593.1" x2="1377" y2="1593.1" stroke="#5a5a5a" stroke-width="5"/>
<circle cx="1316.5" cy="1593.1" r="13.0" fill="#525252"/>
<text x="1390.5" y="1608.6" font-family="'Liberation Serif', 'Noto Serif CJK SC', serif" font-size="53.3" fill="#1a1a1a">Permeability max-min ratio</text>
<line x1="1254" y1="1659.3" x2="1377" y2="1659.3" stroke="#dc6f72" stroke-width="5"/>
<circle cx="1316.5" cy="1659.3" r="13.0" fill="#ec4040"/>
<text x="1390.5" y="1674.8" font-family="'Liberation Serif', 'Noto Serif CJK SC', serif" font-size="53.3" fill="#1a1a1a">Plugging length</text>
<line x1="1254" y1="1724.6" x2="1377" y2="1724.6" stroke="#4068a6" stroke-width="5"/>
<circle cx="1316.5" cy="1724.6" r="13.0" fill="#1c70e0"/>
<text x="1390.5" y="1740.1" font-family="'Liberation Serif', 'Noto Serif CJK SC', serif" font-size="53.3" fill="#1a1a1a">Liquid Injection Strength</text>
</g>
<text x="1197.0" y="2996.5" text-anchor="middle" font-family="'Liberation Serif', 'Noto Serif CJK SC', serif" font-size="77" letter-spacing="1" fill="#000">(<tspan font-weight="bold">i</tspan>) 1.5 m<tspan font-size="43" dy="-25">3</tspan><tspan dy="25">/min, 20</tspan></text>
</svg>
</body></html>
